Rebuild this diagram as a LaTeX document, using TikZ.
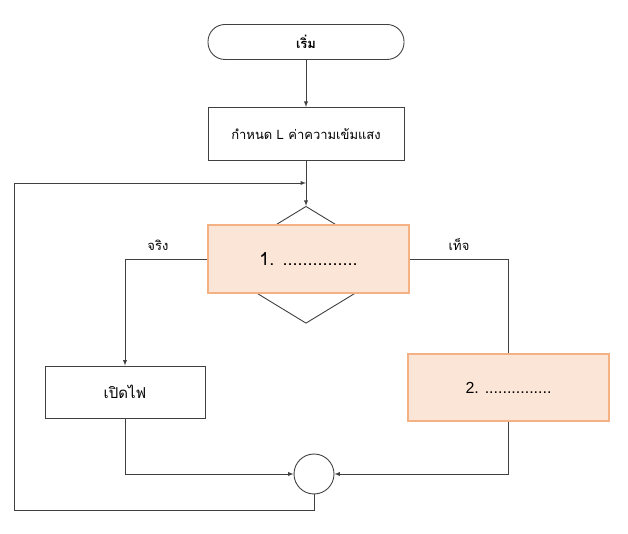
\documentclass[tikz,border=0pt]{standalone}
\usepackage{fontspec}
\newfontfamily\thaifont[Script=Thai]{Loma}
\setmainfont{Liberation Sans}
\usetikzlibrary{shapes.geometric, arrows, positioning}

\definecolor{boxfill}{HTML}{FBE5D6}
\definecolor{boxline}{HTML}{F4B183}
\definecolor{wire}{HTML}{404040}

\begin{document}
\begin{tikzpicture}[
    x=1pt, y=1pt,
    font=\thaifont\fontsize{13}{15}\selectfont,
    line/.style={draw=wire, line width=0.9pt},
    arrow/.style={line, -latex},
    terminal/.style={rectangle, rounded corners=17pt, draw=wire, line width=0.9pt, minimum width=196pt, minimum height=35pt},
    box/.style={rectangle, draw=wire, line width=0.9pt, minimum width=196pt, minimum height=53pt, align=center},
    decision/.style={diamond, draw=wire, line width=0.9pt, minimum width=192pt, minimum height=117pt, inner sep=0pt},
    hilite/.style={rectangle, draw=boxline, fill=boxfill, line width=1.2pt, minimum width=201pt, minimum height=68pt, font=\thaifont\fontsize{18}{20}\selectfont},
    joint/.style={circle, draw=wire, line width=0.9pt, minimum size=40pt, inner sep=0pt}
]
\useasboundingbox (0,0) rectangle (628,534);

% Start and setup
\node[terminal] (start) at (306,492) {\bfseries เริ่ม};
\node[box, below=47pt of start] (setL) {กำหนด L ค่าความเข้มแสง};

% Decision
\node[decision, below=45pt of setL] (check) {};
\node[hilite] (cond) at (308.5,275) {1. ...............};

% Branches
\node[box, minimum width=160pt, minimum height=52pt, font=\thaifont\fontsize{15}{17}\selectfont] (lighton) at (125,142) {เปิดไฟ};
\node[hilite, minimum height=67pt, font=\fontsize{16}{19}\selectfont] (other) at (508.5,146.5) {2. ...............};

% Join
\node[joint] (merge) at (314,60) {};
\coordinate (back) at (306,351);

% Arrows
\draw[arrow] (start) -- (setL);
\draw[arrow] (setL) -- (check.north);
\draw[arrow] (cond.west) -| node[pos=0.3, above=5pt] {จริง} (lighton.north);
\draw[line] (cond.east) -| node[pos=0.25, above=5pt] {เท็จ} (other.north);
\draw[arrow] (lighton.south) |- (merge.west);
\draw[arrow] (other.south) |- (merge.east);
\draw[arrow] (merge.south) -- ++(0,-16) -| (14,351) -- (back);

\end{tikzpicture}
\end{document}
